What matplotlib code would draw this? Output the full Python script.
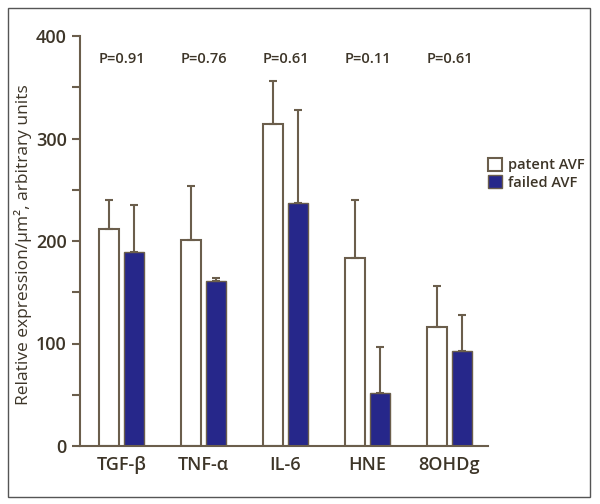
import matplotlib
matplotlib.use("Agg")
import matplotlib.pyplot as plt
from matplotlib.patches import Rectangle
import numpy as np

plt.rcParams['font.family'] = ['Open Sans', 'DejaVu Sans']
plt.rcParams['font.weight'] = 'semibold'

categories = ["TGF-β", "TNF-α", "IL-6", "HNE", "8OHDg"]
patent = [212, 201, 314, 183, 116]
patent_err = [28, 53, 42, 57, 40]
failed = [189, 161, 237, 52, 93]
failed_err = [46, 3, 91, 45, 35]
pvals = ["P=0.91", "P=0.76", "P=0.61", "P=0.11", "P=0.61"]

brown = "#6b5e4c"
textc = "#3d3528"
blue = "#26278a"

fig = plt.figure(figsize=(6.0, 5.04), dpi=100)
fig.patches.append(Rectangle((8/600, 1-497/504), (590-8)/600, (497-8)/504,
                             transform=fig.transFigure, fill=False,
                             edgecolor="#555555", linewidth=1.0))
ax = fig.add_axes([80/600, 1-446/504, (488-80)/600, (446-36)/504])

x = np.arange(len(categories))
w = 0.244
off = 0.152
ax.bar(x - off, patent, w, color="white", edgecolor=brown, linewidth=1.5,
       yerr=[np.zeros(5), patent_err], ecolor=brown,
       error_kw=dict(elinewidth=1.5, capsize=3, capthick=1.5), label="patent AVF", zorder=2)
ax.bar(x + off, failed, w, color=blue, edgecolor=brown, linewidth=1.0,
       yerr=[np.zeros(5), failed_err], ecolor=brown,
       error_kw=dict(elinewidth=1.5, capsize=3, capthick=1.5), label="failed AVF", zorder=2)

for xi, p in zip(x, pvals):
    ax.text(xi, 378, p, ha="center", va="center", fontsize=10.5, color=textc)

ax.set_xlim(-0.506, 4.47)
ax.set_ylim(0, 400)
ax.set_yticks([0, 100, 200, 300, 400])
ax.set_yticks([50, 150, 250, 350], minor=True)
ax.set_xticks(x)
ax.set_xticklabels(categories, fontsize=13, color=textc)
ax.tick_params(axis="y", labelsize=13, colors=brown, labelcolor=textc, length=6, width=1.5, direction="out")
ax.tick_params(axis="y", which="minor", length=6, width=1.5, colors=brown)
ax.tick_params(axis="x", length=0, pad=7)
for s in ["top", "right"]:
    ax.spines[s].set_visible(False)
for s in ["left", "bottom"]:
    ax.spines[s].set_color(brown)
    ax.spines[s].set_linewidth(1.5)
ax.set_ylabel("Relative expression/µm², arbitrary units", fontsize=12.5,
              color=textc, fontweight="medium")
ax.yaxis.set_label_coords((32-80)/408, 0.49)

leg = fig.legend(loc="upper left", bbox_to_anchor=(482/600, 1-152/504), frameon=False,
                 fontsize=10.5, handlelength=1.0, handleheight=1.0, handletextpad=0.4,
                 labelspacing=0.2, borderaxespad=0)
for t in leg.get_texts():
    t.set_color(textc)

fig.savefig("out.png", dpi=100)
